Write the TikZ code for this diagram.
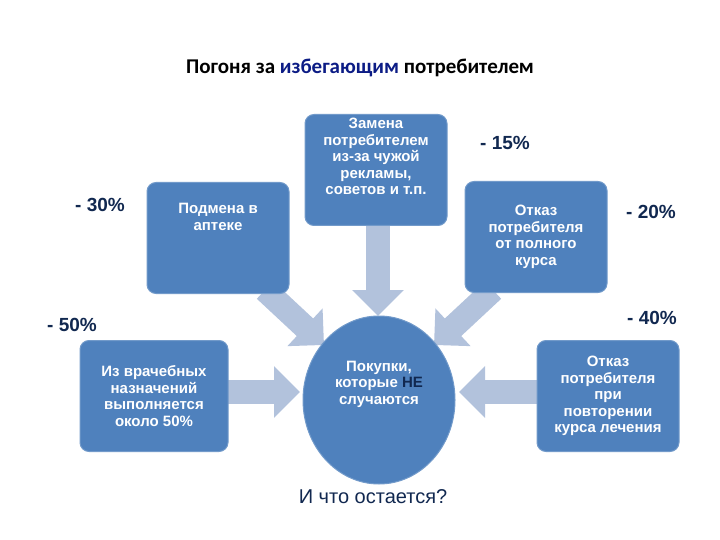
\documentclass[tikz,border=0pt]{standalone}
\usepackage{fontspec}
\setmainfont{Liberation Sans}
\newfontfamily\titlefont{Carlito}
\usetikzlibrary{arrows.meta,shapes.geometric}
\definecolor{boxblue}{RGB}{79,129,189}
\definecolor{arrblue}{RGB}{178,194,220}
\definecolor{navy}{RGB}{17,40,80}
\begin{document}
\begin{tikzpicture}[x=1pt,y=-1pt,
  box/.style={draw=boxblue!80!white, line width=1pt, fill=boxblue, rounded corners=9pt, text=white, font=\bfseries\fontsize{15}{16.5}\selectfont, align=center, minimum width=142pt, minimum height=111pt, inner sep=1pt},
  pct/.style={text=navy, font=\bfseries\fontsize{19}{20}\selectfont},
  barr/.style={draw=arrblue, line width=24pt, -{Triangle[width=50pt,length=26pt]}}]
\useasboundingbox (0,0) rectangle (720,540);
\node[font=\titlefont\bfseries\fontsize{21}{22}\selectfont] (title) at (360,68) {Погоня за {\color{navy!70!blue}избегающим} потребителем};
\coordinate (a1s) at (265,290); \coordinate (a1e) at (324,345);
\coordinate (a2s) at (378,222); \coordinate (a2e) at (378,316);
\coordinate (a3s) at (493,290); \coordinate (a3e) at (434,345);
\coordinate (a4s) at (226,392); \coordinate (a4e) at (300,392);
\coordinate (a5s) at (540,392); \coordinate (a5e) at (459,392);
\draw[barr] (a1s) -- (a1e);
\draw[barr] (a2s) -- (a2e);
\draw[barr] (a3s) -- (a3e);
\draw[barr] (a4s) -- (a4e);
\draw[barr] (a5s) -- (a5e);
\node[box] (b1) at (218,238) {Подмена в\\аптеке\\[26pt]};
\node[box] (b2) at (376,170) {Замена\\потребителем\\из-за чужой\\рекламы,\\советов и т.п.\\[10pt]};
\node[box] (b3) at (536,237) {Отказ\\потребителя\\от полного\\курса};
\node[box, minimum width=148pt] (b4) at (154,396) {Из врачебных\\назначений\\выполняется\\около 50\%};
\node[box] (b5) at (608,396) {Отказ\\потребителя\\при\\повторении\\курса лечения};
\node[ellipse, draw=boxblue!80!white, line width=1pt, fill=boxblue, text=white, font=\bfseries\fontsize{15}{16.5}\selectfont, align=center, minimum width=152pt, minimum height=168pt, inner sep=0pt] (c) at (379,400) {Покупки,\\которые {\color{navy}НЕ}\\случаются\\[18pt]};
\node[pct] (p30) at (100,205) {- 30\%};
\node[pct] (p15) at (505,143) {- 15\%};
\node[pct] (p20) at (651,212) {- 20\%};
\node[pct] (p50) at (72,325) {- 50\%};
\node[pct] (p40) at (652,318) {- 40\%};
\node[font=\fontsize{20}{21}\selectfont, text=navy] (q) at (373,497) {И что остается?};
\end{tikzpicture}
\end{document}
